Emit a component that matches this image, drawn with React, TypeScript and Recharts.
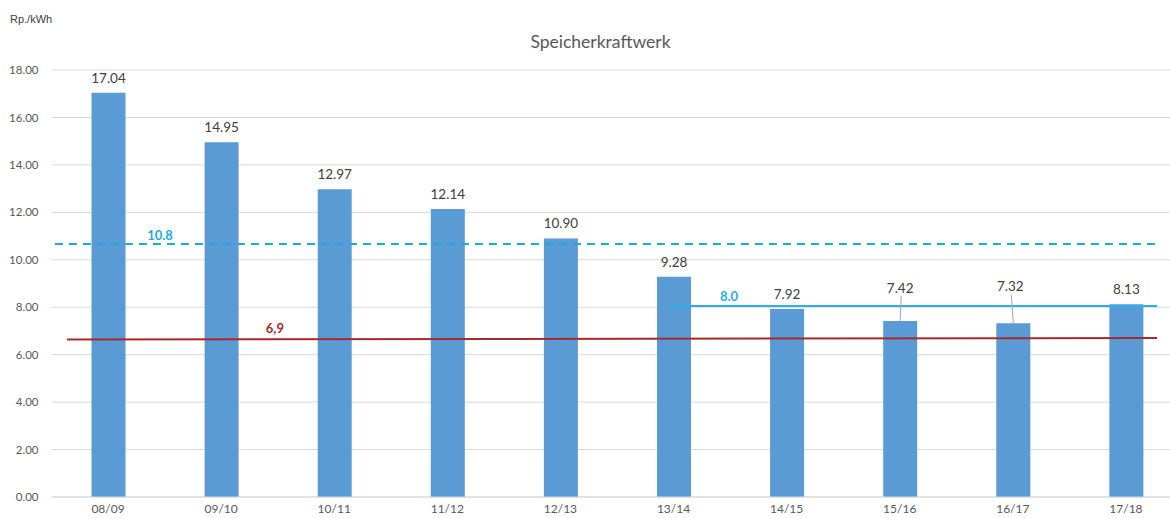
import React from "react";
import {
  ComposedChart,
  Bar,
  XAxis,
  YAxis,
  CartesianGrid,
  LabelList,
  ReferenceLine,
  ReferenceDot,
} from "recharts";

const seasons = ["08/09", "09/10", "10/11", "11/12", "12/13", "13/14", "14/15", "15/16", "16/17", "17/18"];
const costs = [17.04, 14.95, 12.97, 12.14, 10.9, 9.28, 7.92, 7.42, 7.32, 8.13];
const yTicks = [0, 2, 4, 6, 8, 10, 12, 14, 16, 18];

// reference levels (start / end value)
const redLevel = [6.64, 6.7];
const dashedLevel = [10.67, 10.67];
const recentLevel = [8.05, 8.05];
const redText = "6,9";
const dashedText = "10.8";
const recentText = "8.0";

const FONT = "Lato, 'Open Sans', sans-serif";
const BAR = "#5B9BD5";
const RED = "#A52A2A";
const BLUE_DASH = "#1FA9DE";
const BLUE = "#2AAFE6";

// hidden numeric axis spans the category bands: band units 0..10 -> axis 0..9
const BANDS = 10;
const AXIS_MAX = 9;
const at = (band: number) => (band * AXIS_MAX) / BANDS;

// labels pushed up with a leader line, like Excel does it
const lifted: Record<string, { dx: number; dy: number }> = {
  "15/16": { dx: 0, dy: -18 },
  "16/17": { dx: -3, dy: -22 },
};

const rows = seasons.map((s, i) => ({ season: s, value: costs[i] }));

function BarLabel(props: any) {
  const { x, y, width, value, index } = props;
  const cx = Number(x) + Number(width) / 2;
  const top = Number(y);
  const lift = lifted[seasons[index]];
  const dx = lift ? lift.dx : 0;
  const dy = lift ? lift.dy : 0;
  const ty = top - 15 + dy;
  return (
    <g>
      {lift && (
        <line x1={cx + dx + 1} y1={ty + 8} x2={cx} y2={top} stroke="#A6A6A6" strokeWidth={1} />
      )}
      <text
        x={cx + dx}
        y={ty}
        textAnchor="middle"
        dominantBaseline="central"
        fill="#404040"
        fontSize={13.5}
        fontFamily={FONT}
      >
        {Number(value).toFixed(2)}
      </text>
    </g>
  );
}

export default function App() {
  return (
    <div
      style={{
        position: "absolute",
        left: 0,
        top: 0,
        width: 1170,
        height: 518,
        overflow: "hidden",
        background: "#fff",
        fontFamily: FONT,
      }}
    >
      <div style={{ position: "absolute", left: 10, top: 13, fontSize: 11, color: "#404040", fontFamily: "'Liberation Sans', Arial, sans-serif" }}>
        Rp./kWh
      </div>
      <div
        style={{
          position: "absolute",
          left: 0,
          width: 1201,
          top: 31,
          textAlign: "center",
          fontSize: 17.5,
          color: "#595959",
        }}
      >
        Speicherkraftwerk
      </div>
      <ComposedChart
        width={1190}
        height={518}
        data={rows}
        margin={{ top: 70, right: 7.5, bottom: 0, left: 0 }}
      >
        <CartesianGrid vertical={false} stroke="#D9D9D9" />
        <XAxis
          dataKey="season"
          axisLine={{ stroke: "#D9D9D9" }}
          tickLine={false}
          height={21}
          tick={{ fill: "#595959", fontSize: 12, fontFamily: FONT }}
          tickMargin={1}
        />
        <XAxis xAxisId="num" type="number" domain={[0, AXIS_MAX]} allowDataOverflow hide />
        <YAxis
          domain={[0, 18]}
          ticks={yTicks}
          width={51.5}
          axisLine={false}
          tickLine={false}
          tickMargin={7}
          tickFormatter={(v: number) => v.toFixed(2)}
          tick={{ fill: "#595959", fontSize: 11.5, fontFamily: FONT }}
        />
        <Bar dataKey="value" fill={BAR} barSize={34} isAnimationActive={false}>
          <LabelList dataKey="value" content={BarLabel} />
        </Bar>
        <ReferenceLine
          xAxisId="num"
          ifOverflow="visible"
          segment={[
            { x: at(0.137), y: redLevel[0] },
            { x: at(9.775), y: redLevel[1] },
          ]}
          stroke={RED}
          strokeWidth={2}
        />
        <ReferenceLine
          xAxisId="num"
          ifOverflow="visible"
          segment={[
            { x: at(0.03), y: dashedLevel[0] },
            { x: at(9.775), y: dashedLevel[1] },
          ]}
          stroke={BLUE_DASH}
          strokeWidth={2}
          strokeDasharray="8 6"
        />
        <ReferenceLine
          xAxisId="num"
          ifOverflow="visible"
          segment={[
            { x: at(5.47), y: recentLevel[0] },
            { x: at(9.775), y: recentLevel[1] },
          ]}
          stroke={BLUE}
          strokeWidth={2}
        />
        <ReferenceDot
          xAxisId="num"
          x={at(0.96)}
          y={dashedLevel[0]}
          r={0}
          stroke="none"
          ifOverflow="visible"
          label={{ value: dashedText, position: "top", offset: 4, fill: BLUE_DASH, fontSize: 13, fontWeight: 700, fontFamily: FONT }}
        />
        <ReferenceDot
          xAxisId="num"
          x={at(1.975)}
          y={redLevel[0]}
          r={0}
          stroke="none"
          ifOverflow="visible"
          label={{ value: redText, position: "top", offset: 6, fill: RED, fontSize: 13, fontWeight: 700, fontFamily: FONT }}
        />
        <ReferenceDot
          xAxisId="num"
          x={at(5.99)}
          y={recentLevel[0]}
          r={0}
          stroke="none"
          ifOverflow="visible"
          label={{ value: recentText, position: "top", offset: 5, fill: BLUE, fontSize: 13, fontWeight: 700, fontFamily: FONT }}
        />
      </ComposedChart>
    </div>
  );
}
